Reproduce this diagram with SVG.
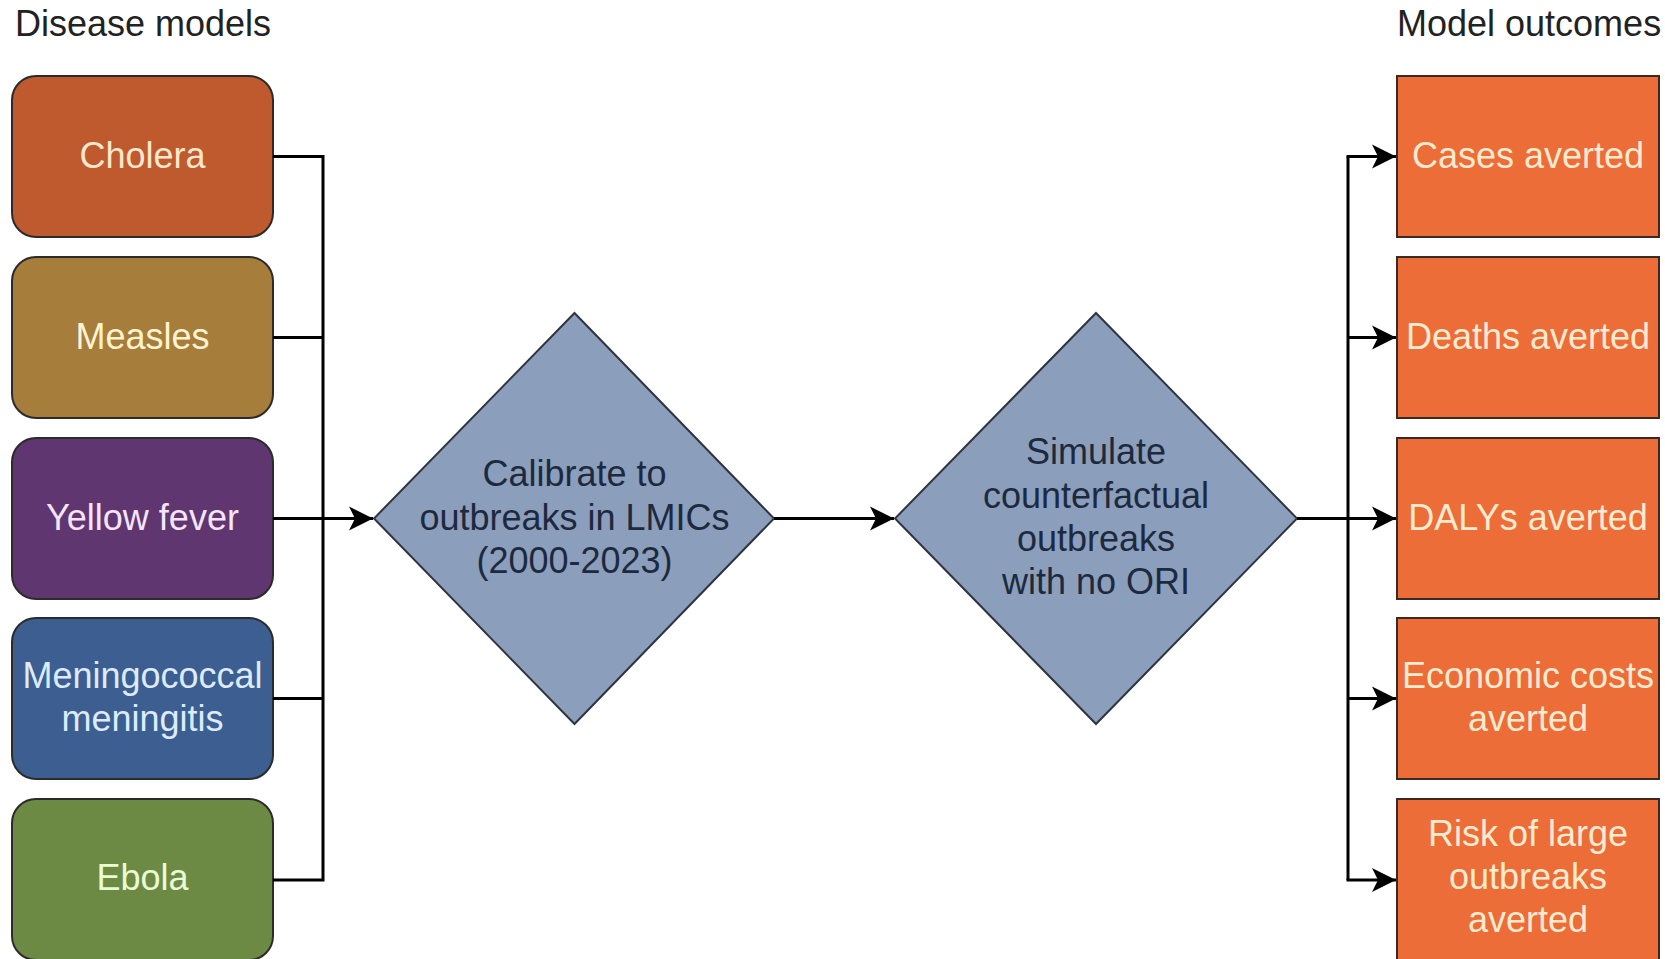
<svg xmlns="http://www.w3.org/2000/svg" width="1665" height="959" viewBox="0 0 1665 959">
<defs>
<marker id="arr" markerUnits="userSpaceOnUse" markerWidth="26" markerHeight="26" viewBox="0 0 26 26" refX="24" refY="13" orient="auto">
<path d="M0,1 L24,13 L0,25 L6,13 Z" fill="#000"/>
</marker>
</defs>
<style>
text{font-family:"Liberation Sans",Arial,sans-serif;font-size:36px;}
.title{fill:#222;}
.dis{stroke:#2b2b2b;stroke-width:2;}
.out{fill:#EC6D38;stroke:#3a2a22;stroke-width:2;}
.dia{fill:#8B9EBC;stroke:#2e3440;stroke-width:2;}
.ot{fill:#FFEBD2;text-anchor:middle;}
.dt{fill:#1D2A3E;text-anchor:middle;}
.lt{text-anchor:middle;}
.conn{fill:none;stroke:#000;stroke-width:3;}
</style>
<rect width="1665" height="959" fill="#fff"/>
<text class="title" x="15" y="36">Disease models</text>
<text class="title" x="1397" y="36">Model outcomes</text>
<g id="cholera"><rect class="dis" x="12" y="76" width="261" height="161" rx="24" fill="#BE5A2D"/><text class="lt" x="142.5" y="167.5" fill="#FFE8CF">Cholera</text></g>
<g id="measles"><rect class="dis" x="12" y="257" width="261" height="161" rx="24" fill="#A77D3B"/><text class="lt" x="142.5" y="348.5" fill="#FFF4D2">Measles</text></g>
<g id="yellowfever"><rect class="dis" x="12" y="438" width="261" height="161" rx="24" fill="#5F3670"/><text class="lt" x="142.5" y="529.5" fill="#F6E4FA">Yellow fever</text></g>
<g id="meningitis"><rect class="dis" x="12" y="618" width="261" height="161" rx="24" fill="#3D5E91"/><text class="lt" x="142.5" y="688" fill="#DDEBFC">Meningococcal</text><text class="lt" x="142.5" y="731" fill="#DDEBFC">meningitis</text></g>
<g id="ebola"><rect class="dis" x="12" y="799" width="261" height="161" rx="24" fill="#6D8A45"/><text class="lt" x="142.5" y="890" fill="#EAFCD2">Ebola</text></g>
<g id="calibrate"><polygon class="dia" points="574.5,313 774,518.5 574.5,724 374,518.5"/><text class="dt" x="574.5" y="486">Calibrate to</text><text class="dt" x="574.5" y="529.5">outbreaks in LMICs</text><text class="dt" x="574.5" y="572.5">(2000-2023)</text></g>
<g id="simulate"><polygon class="dia" points="1096,313 1297,518.5 1096,724 895,518.5"/><text class="dt" x="1096" y="464">Simulate</text><text class="dt" x="1096" y="508">counterfactual</text><text class="dt" x="1096" y="551">outbreaks</text><text class="dt" x="1096" y="594">with no ORI</text></g>
<g id="cases"><rect class="out" x="1397" y="76" width="262" height="161"/><text class="ot" x="1528" y="167.5">Cases averted</text></g>
<g id="deaths"><rect class="out" x="1397" y="257" width="262" height="161"/><text class="ot" x="1528" y="348.5">Deaths averted</text></g>
<g id="dalys"><rect class="out" x="1397" y="438" width="262" height="161"/><text class="ot" x="1528" y="529.5">DALYs averted</text></g>
<g id="economic"><rect class="out" x="1397" y="618" width="262" height="161"/><text class="ot" x="1528" y="688">Economic costs</text><text class="ot" x="1528" y="731">averted</text></g>
<g id="risk"><rect class="out" x="1397" y="799" width="262" height="161"/><text class="ot" x="1528" y="846">Risk of large</text><text class="ot" x="1528" y="889">outbreaks</text><text class="ot" x="1528" y="932">averted</text></g>
<g id="connectors">
<polyline class="conn" points="273,156.5 323,156.5 323,880 273,880"/>
<line class="conn" x1="273" y1="337.5" x2="323" y2="337.5"/>
<line class="conn" x1="273" y1="698.5" x2="323" y2="698.5"/>
<line class="conn" x1="273" y1="518.5" x2="373" y2="518.5" marker-end="url(#arr)"/>
<line class="conn" x1="774" y1="518.5" x2="894" y2="518.5" marker-end="url(#arr)"/>
<line class="conn" x1="1297" y1="518.5" x2="1396" y2="518.5" marker-end="url(#arr)"/>
<line class="conn" x1="1348" y1="156.5" x2="1348" y2="880"/>
<line class="conn" x1="1346.5" y1="156.5" x2="1396" y2="156.5" marker-end="url(#arr)"/>
<line class="conn" x1="1348" y1="337.5" x2="1396" y2="337.5" marker-end="url(#arr)"/>
<line class="conn" x1="1348" y1="698.5" x2="1396" y2="698.5" marker-end="url(#arr)"/>
<line class="conn" x1="1346.5" y1="880" x2="1396" y2="880" marker-end="url(#arr)"/>
</g>
</svg>
